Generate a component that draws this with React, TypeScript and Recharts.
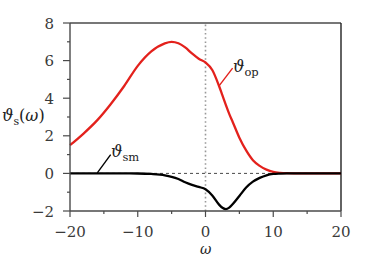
import { Line, LineChart, ReferenceLine, XAxis, YAxis } from "recharts";

const omega = [-20, -18, -16, -14, -12, -10, -8, -6, -5, -4, -3, -2, -1, 0, 1, 2, 2.5, 3, 3.5, 4, 5, 6, 7, 8, 9, 10, 11, 12, 14, 16, 18, 20];
const thetaOp = [1.5, 2.12, 2.82, 3.68, 4.65, 5.72, 6.49, 6.92, 7.0, 6.92, 6.7, 6.38, 6.1, 5.9, 5.5, 4.65, 4.15, 3.65, 3.17, 2.75, 1.9, 1.22, 0.7, 0.4, 0.2, 0.08, 0.03, 0.01, 0, 0, 0, 0];
const thetaSm = [0, 0, 0, 0, 0, -0.005, -0.03, -0.1, -0.18, -0.3, -0.47, -0.61, -0.72, -0.84, -1.17, -1.66, -1.83, -1.9, -1.82, -1.64, -1.2, -0.75, -0.44, -0.24, -0.1, -0.03, -0.01, 0, 0, 0, 0, 0];
const xTicks = [-20, -15, -10, -5, 0, 5, 10, 15, 20];
const yTicks = [-2, -1, 0, 1, 2, 3, 4, 5, 6, 7, 8];

const data = omega.map((w, i) => ({ w, op: thetaOp[i], sm: thetaSm[i] }));

const RED = "#e3211c";
const AXIS = "#4a4a4a";
const FONT = "DejaVu Serif";

const fmt = (v: number) => (v < 0 ? "\u2212" + Math.abs(v) : String(v));

function XTick({ x, y, payload }: any) {
  const major = payload.value % 10 === 0;
  return (
    <g>
      <line x1={x} x2={x} y1={y} y2={y + (major ? 6 : 3)} stroke={AXIS} strokeWidth={1.2} />
      {major && (
        <text x={x} y={y + 26} textAnchor="middle" fontFamily={FONT} fontSize={15} fill="#3a3a3a">
          {fmt(payload.value)}
        </text>
      )}
    </g>
  );
}

function YTick({ x, y, payload }: any) {
  const major = payload.value % 2 === 0;
  return (
    <g>
      <line x1={x - (major ? 7 : 3)} x2={x} y1={y} y2={y} stroke={AXIS} strokeWidth={1.2} />
      {major && (
        <text x={x - 16} y={y + 5.5} textAnchor="end" fontFamily={FONT} fontSize={15} fill="#3a3a3a">
          {fmt(payload.value)}
        </text>
      )}
    </g>
  );
}

export default function App() {
  return (
    <div style={{ position: "absolute", left: 0, top: 0, width: 374, height: 256 }}>
      <LineChart width={374} height={256} data={data} margin={{ top: 23, right: 33, left: 0, bottom: 0 }}>
        <XAxis
          dataKey="w"
          type="number"
          domain={[-20, 20]}
          ticks={xTicks}
          interval={0}
          height={45}
          tickSize={0}
          tickMargin={0}
          tickLine={false}
          tick={<XTick />}
          axisLine={{ stroke: AXIS, strokeWidth: 1.4 }}
        />
        <YAxis
          type="number"
          domain={[-2, 8]}
          ticks={yTicks}
          interval={0}
          width={70}
          tickSize={0}
          tickMargin={0}
          tickLine={false}
          tick={<YTick />}
          axisLine={{ stroke: AXIS, strokeWidth: 1.4 }}
        />
        <ReferenceLine y={8} stroke={AXIS} strokeWidth={1.4} />
        <ReferenceLine x={20} stroke="#222" strokeWidth={1.4} />
        <ReferenceLine y={0} stroke="#333" strokeWidth={0.9} strokeDasharray="3 3" />
        <ReferenceLine x={0} stroke="#999" strokeWidth={1.6} strokeDasharray="1.6 2.6" />
        <ReferenceLine segment={[{ x: -15.97, y: 0.03 }, { x: -14.0, y: 1.0 }]} stroke="#000" strokeWidth={1.4} />
        <ReferenceLine segment={[{ x: 2.03, y: 4.67 }, { x: 4.0, y: 5.6 }]} stroke={RED} strokeWidth={1.4} />
        <Line type="monotone" dataKey="op" stroke={RED} strokeWidth={2.3} dot={false} isAnimationActive={false} />
        <Line type="monotone" dataKey="sm" stroke="#000" strokeWidth={2.3} dot={false} isAnimationActive={false} />
      </LineChart>
      <svg width={374} height={256} style={{ position: "absolute", left: 0, top: 0, pointerEvents: "none" }}>
        <text x={2} y={121} fontFamily={FONT} fontSize={16} fill="#222">
          <tspan fontStyle="italic">ϑ</tspan>
          <tspan fontSize={11} dy={4}>s</tspan>
          <tspan dy={-4}>(</tspan>
          <tspan fontStyle="italic">ω</tspan>
          <tspan>)</tspan>
        </text>
        <text x={200} y={253.5} fontFamily={FONT} fontSize={14} fontStyle="italic" fill="#222">ω</text>
        <text x={233} y={72} fontFamily={FONT} fontSize={16} fill="#222">
          <tspan fontStyle="italic">ϑ</tspan>
          <tspan fontSize={11.5} dy={4}>op</tspan>
        </text>
        <text x={111} y={157} fontFamily={FONT} fontSize={16} fill="#222">
          <tspan fontStyle="italic">ϑ</tspan>
          <tspan fontSize={11.5} dy={4}>sm</tspan>
        </text>
      </svg>
    </div>
  );
}
